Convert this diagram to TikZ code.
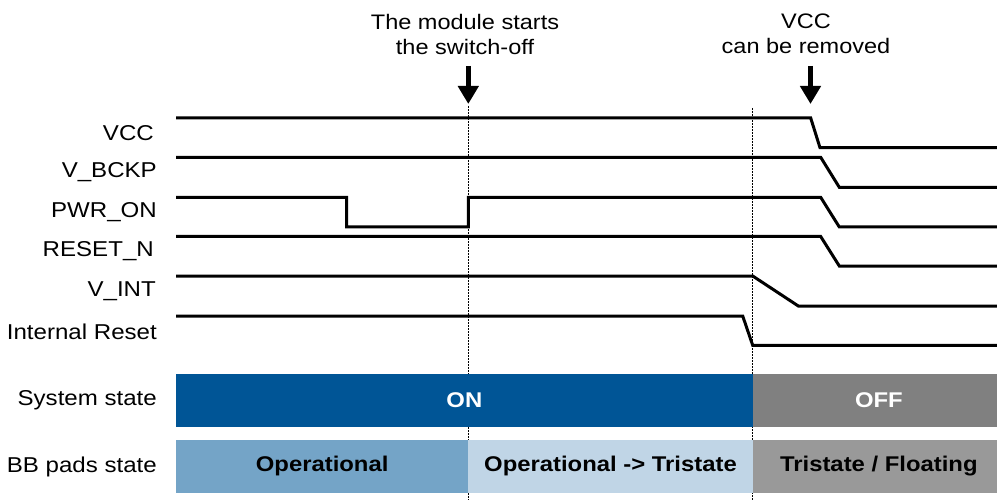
\documentclass[tikz,border=0pt]{standalone}
\usepackage{fontspec}
\setmainfont[FakeStretch=1.12]{Liberation Sans}
\usetikzlibrary{arrows.meta}
\definecolor{onblue}{RGB}{0,85,150}
\definecolor{offgray}{RGB}{128,128,128}
\definecolor{opblue}{RGB}{116,164,199}
\definecolor{trilight}{RGB}{192,213,230}
\definecolor{tristgray}{RGB}{153,153,153}
\begin{document}
\begin{tikzpicture}[x=1pt,y=-1pt,
  sig/.style={line width=3pt, line join=miter},
  guide/.style={line width=0.8pt, dash pattern=on 2pt off 1pt},
  lbl/.style={anchor=east, inner sep=0pt, font=\fontsize{21.5}{25}\selectfont},
  note/.style={align=center, inner sep=0pt, font=\fontsize{21}{25}\selectfont},
  bar/.style={inner sep=0pt, minimum height=52.7pt, font=\bfseries\fontsize{21.3}{25}\selectfont},
  marker/.style={line width=4.5pt, -{Triangle[width=20pt,length=18pt]}}]
\useasboundingbox (0,0) rectangle (997,500);

% top notes and arrows
\node[note] (n1) at (465,34) {The module starts\\the switch-off};
\node[note] (n2) at (806,34) {VCC\\can be removed};
\coordinate (a1s) at (468.3,66);
\coordinate (a1e) at (468.3,104);
\coordinate (a2s) at (810.5,66);
\coordinate (a2e) at (810.5,104);
\draw[marker] (a1s) -- (a1e);
\draw[marker] (a2s) -- (a2e);

% guide lines
\coordinate (g1t) at (468.3,106);
\coordinate (g1b) at (468.3,500);
\coordinate (g2t) at (752.7,108);
\coordinate (g2b) at (752.7,500);
\draw[guide] (g1t) -- (g1b);
\draw[guide] (g2t) -- (g2b);

% signal labels
\node[lbl] (lvcc) at (154,133) {VCC};
\node[lbl] (lbckp) at (157,172.5) {V\_BCKP};
\node[lbl] (lpwr) at (157,212.5) {PWR\_ON};
\node[lbl] (lrst) at (154,251.5) {RESET\_N};
\node[lbl] (lvint) at (156,291.5) {V\_INT};
\node[lbl] (lint) at (157,331.5) {Internal Reset};
\node[lbl] (lsys) at (157,400.5) {System state};
\node[lbl] (lbb) at (157,466.5) {BB pads state};

% signals
\draw[sig] (176,118) -- (810.7,118) -- (820,147.7) -- (997,147.7);
\draw[sig] (176,157.3) -- (820.7,157.3) -- (839.3,187.3) -- (997,187.3);
\draw[sig] (176,197.3) -- (346.7,197.3) -- (346.7,227) -- (468.3,227) -- (468.3,197.3) -- (820.7,197.3) -- (839.3,227) -- (997,227);
\draw[sig] (176,236.5) -- (820.7,236.5) -- (839.3,266) -- (997,266);
\draw[sig] (176,276) -- (752.7,276) -- (798.3,306) -- (997,306);
\draw[sig] (176,316) -- (742.7,316) -- (752.7,345.3) -- (997,345.3);

% state bars
\node[bar, fill=onblue, text=white, minimum width=576.7pt] (on) at (464.35,400.35) {ON};
\node[bar, fill=offgray, text=white, minimum width=252.3pt] (off) at (878.85,400.35) {OFF};
\node[bar, fill=opblue, minimum width=292.3pt] (op) at (322.15,466.35) {Operational};
\node[bar, fill=trilight, minimum width=284.4pt] (optri) at (610.5,466.35) {Operational -> Tristate};
\node[bar, fill=tristgray, minimum width=252.3pt] (tri) at (878.85,466.35) {Tristate / Floating};
\end{tikzpicture}
\end{document}
